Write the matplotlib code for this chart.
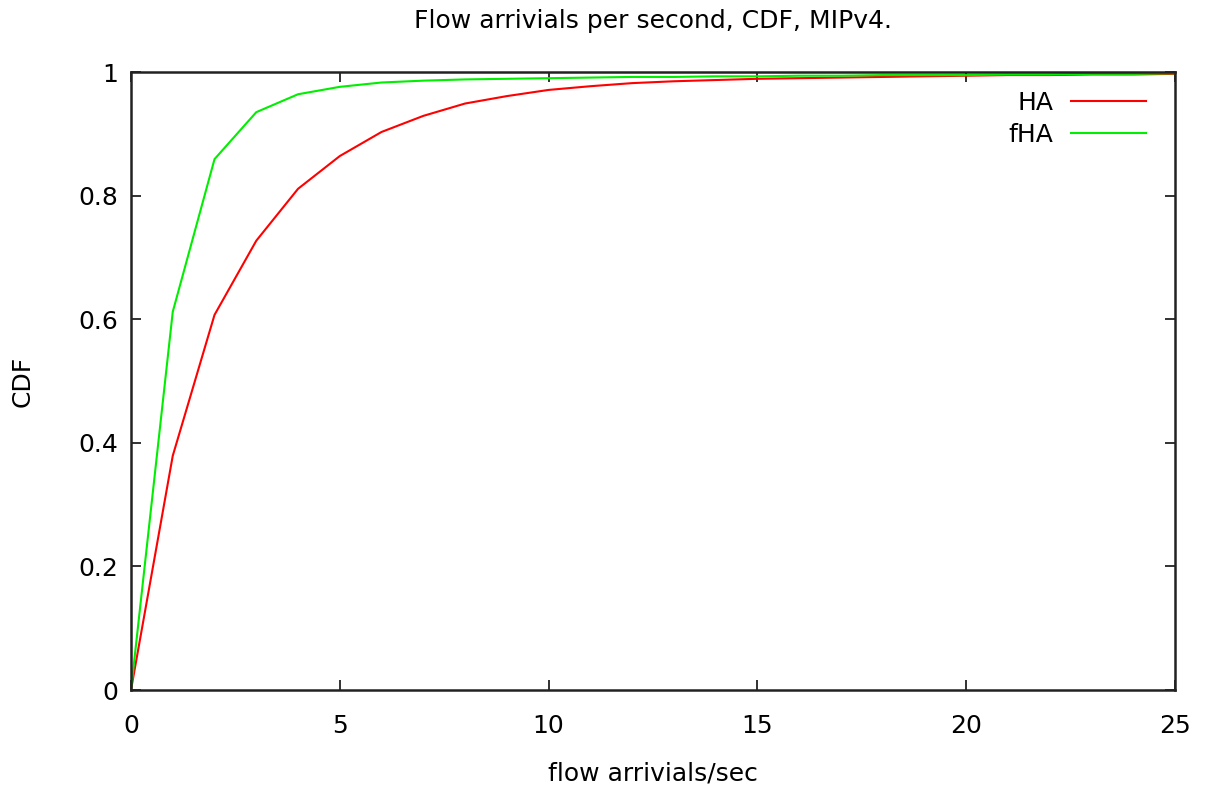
import numpy as np
import matplotlib
matplotlib.use("Agg")
import matplotlib.pyplot as plt

# flow arrivals per second and CDF values
x = list(range(0, 26))
ha = [0.0, 0.379, 0.607, 0.727, 0.811, 0.864, 0.903, 0.929, 0.949, 0.961,
      0.971, 0.977, 0.982, 0.985, 0.987, 0.989, 0.990, 0.991, 0.992, 0.993,
      0.994, 0.995, 0.995, 0.996, 0.996, 0.997]
fha = [0.0, 0.612, 0.859, 0.935, 0.964, 0.976, 0.983, 0.986, 0.988, 0.989,
       0.990, 0.991, 0.992, 0.992, 0.993, 0.993, 0.994, 0.994, 0.995, 0.995,
       0.995, 0.996, 0.996, 0.997, 0.997, 0.998]

xticks = [0, 5, 10, 15, 20, 25]
yticks = [0, 0.2, 0.4, 0.6, 0.8, 1]
ytick_labels = ["0", "0.2", "0.4", "0.6", "0.8", "1"]

fs = 18
plt.rcParams["font.family"] = "DejaVu Sans"
fig = plt.figure(figsize=(12.05, 7.89), dpi=100)
ax = fig.add_axes([131/1205, 1-690/789, (1175-131)/1205, (690-72)/789])

ax.plot(x, ha, color="#ff0000", lw=1.5, label="HA")
ax.plot(x, fha, color="#00ee00", lw=1.5, label="fHA")

ax.set_xlim(0, 25)
ax.set_ylim(0, 1)
ax.set_xticks(xticks)
ax.set_yticks(yticks)
ax.set_yticklabels(ytick_labels)
ax.tick_params(direction="in", top=True, right=True, length=7, width=1.3,
               labelsize=fs, color="#222222")
ax.tick_params(axis="x", pad=17)
ax.tick_params(axis="y", pad=9)
for s in ax.spines.values():
    s.set_linewidth(1.8)
    s.set_color("#222222")

ax.set_title("Flow arrivials per second, CDF, MIPv4.", fontsize=fs, pad=32)
ax.set_xlabel("flow arrivials/sec", fontsize=fs, labelpad=17)
ax.set_ylabel("CDF", fontsize=fs, labelpad=32)

ax.legend(loc="upper right", frameon=False, markerfirst=False, fontsize=fs,
          handlelength=3.0, handletextpad=0.7, labelspacing=0.32,
          borderpad=0.0, bbox_to_anchor=(0.984, 0.99))

fig.savefig("out.png", dpi=100)
